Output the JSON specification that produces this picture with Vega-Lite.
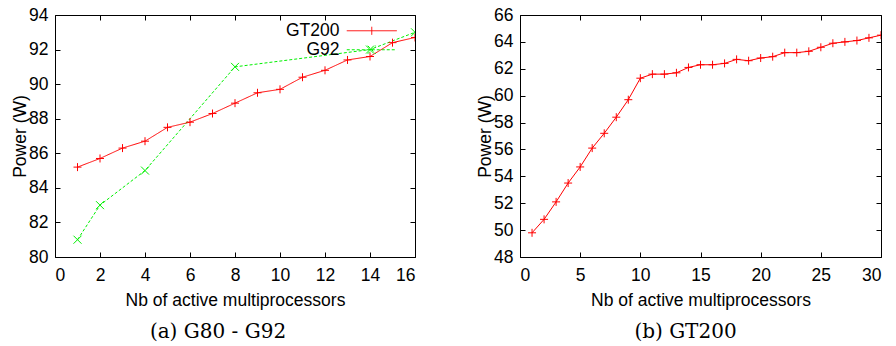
{
  "$schema": "https://vega.github.io/schema/vega-lite/v6.json",
  "background": "white",
  "padding": {"left": 11, "top": 5, "right": 5, "bottom": 2},
  "spacing": 60,
  "config": {
    "view": {"stroke": "black", "strokeWidth": 1},
    "axis": {"grid": false, "domain": false, "ticks": true, "tickColor": "black", "tickSize": -5, "tickWidth": 1, "labelFont": "Liberation Sans", "labelFontSize": 17.5, "labelColor": "black", "titleFont": "Liberation Sans", "titleFontSize": 17.5, "titleFontWeight": "normal", "titleColor": "black"},
    "axisBottom": {"labelPadding": 14, "titlePadding": 8},
    "axisLeft": {"labelPadding": 12, "titlePadding": -1},
    "title": {"font": "DejaVu Serif", "fontSize": 20, "fontWeight": "normal", "color": "black", "orient": "bottom", "anchor": "middle"},
    "legend": {"labelFont": "Liberation Sans", "labelFontSize": 17.5, "labelColor": "black"}
  },
  "datasets": {
    "a": [
      {"n": 1, "power": 85.2, "series": "GT200"},
      {"n": 2, "power": 85.7, "series": "GT200"},
      {"n": 3, "power": 86.3, "series": "GT200"},
      {"n": 4, "power": 86.7, "series": "GT200"},
      {"n": 5, "power": 87.5, "series": "GT200"},
      {"n": 6, "power": 87.8, "series": "GT200"},
      {"n": 7, "power": 88.3, "series": "GT200"},
      {"n": 8, "power": 88.9, "series": "GT200"},
      {"n": 9, "power": 89.5, "series": "GT200"},
      {"n": 10, "power": 89.7, "series": "GT200"},
      {"n": 11, "power": 90.4, "series": "GT200"},
      {"n": 12, "power": 90.8, "series": "GT200"},
      {"n": 13, "power": 91.4, "series": "GT200"},
      {"n": 14, "power": 91.6, "series": "GT200"},
      {"n": 15, "power": 92.4, "series": "GT200"},
      {"n": 16, "power": 92.7, "series": "GT200"},
      {"n": 1, "power": 81, "series": "G92"},
      {"n": 2, "power": 83, "series": "G92"},
      {"n": 4, "power": 85, "series": "G92"},
      {"n": 8, "power": 91, "series": "G92"},
      {"n": 14, "power": 92, "series": "G92"},
      {"n": 16, "power": 93, "series": "G92"}
    ],
    "b": [
      {"n": 1, "power": 49.8}, {"n": 2, "power": 50.8}, {"n": 3, "power": 52.1},
      {"n": 4, "power": 53.5}, {"n": 5, "power": 54.7}, {"n": 6, "power": 56.1},
      {"n": 7, "power": 57.2}, {"n": 8, "power": 58.4}, {"n": 9, "power": 59.7},
      {"n": 10, "power": 61.3}, {"n": 11, "power": 61.6}, {"n": 12, "power": 61.6},
      {"n": 13, "power": 61.7}, {"n": 14, "power": 62.1}, {"n": 15, "power": 62.3},
      {"n": 16, "power": 62.3}, {"n": 17, "power": 62.4}, {"n": 18, "power": 62.7},
      {"n": 19, "power": 62.6}, {"n": 20, "power": 62.8}, {"n": 21, "power": 62.9},
      {"n": 22, "power": 63.2}, {"n": 23, "power": 63.2}, {"n": 24, "power": 63.3},
      {"n": 25, "power": 63.6}, {"n": 26, "power": 63.9}, {"n": 27, "power": 64.0},
      {"n": 28, "power": 64.1}, {"n": 29, "power": 64.3}, {"n": 30, "power": 64.5}
    ]
  },
  "hconcat": [
    {
      "width": 360,
      "height": 242,
      "title": {"text": "(a) G80 - G92", "dx": -17, "offset": 13},
      "data": {"name": "a"},
      "resolve": {"axis": {"x": "independent", "y": "independent"}},
      "layer": [
        {
          "mark": {"type": "line", "strokeWidth": 1, "clip": true},
          "encoding": {
            "x": {"field": "n", "type": "quantitative", "scale": {"domain": [0, 16], "nice": false}, "axis": {"orient": "bottom", "values": [0, 2, 4, 6, 8, 10, 12, 14, 16], "title": "Nb of active multiprocessors"}},
            "y": {"field": "power", "type": "quantitative", "scale": {"domain": [80, 94], "nice": false, "zero": false}, "axis": {"orient": "left", "values": [80, 82, 84, 86, 88, 90, 92, 94], "title": "Power (W)"}},
            "color": {"field": "series", "type": "nominal", "scale": {"domain": ["GT200", "G92"], "range": ["#ff0000", "#00f000"]},
              "legend": {"title": null, "orient": "none", "legendX": 308, "legendY": 7, "labelAlign": "right", "labelOffset": -41, "symbolSize": 100, "symbolStrokeWidth": 1, "rowPadding": 0,
                "encode": {"symbols": {"update": {"shape": {"signal": "datum.value === 'G92' ? 'M-5,0H5M-0.8,-0.8L0.8,0.8M-0.8,0.8L0.8,-0.8' : 'M-5,0H5M0,-0.8V0.8'"}}}}}},
            "strokeDash": {"field": "series", "type": "nominal", "scale": {"domain": ["GT200", "G92"], "range": [[1, 0], [3, 2]]}}
          }
        },
        {
          "transform": [{"filter": "datum.series === 'GT200'"}],
          "mark": {"type": "point", "shape": "M-1,0H1M0,-1V1", "filled": false, "color": "#ff0000", "size": 64, "strokeWidth": 1, "opacity": 1, "clip": true},
          "encoding": {
            "x": {"field": "n", "type": "quantitative", "axis": {"orient": "top", "labels": false, "title": null, "values": [0, 2, 4, 6, 8, 10, 12, 14, 16]}},
            "y": {"field": "power", "type": "quantitative", "axis": {"orient": "right", "labels": false, "title": null, "values": [80, 82, 84, 86, 88, 90, 92, 94]}}
          }
        },
        {
          "transform": [{"filter": "datum.series === 'G92'"}],
          "mark": {"type": "point", "shape": "M-1,-1L1,1M-1,1L1,-1", "filled": false, "color": "#00f000", "size": 64, "strokeWidth": 1, "opacity": 1, "clip": true},
          "encoding": {
            "x": {"field": "n", "type": "quantitative", "axis": null},
            "y": {"field": "power", "type": "quantitative", "axis": null}
          }
        }
      ]
    },
    {
      "width": 361,
      "height": 242,
      "title": {"text": "(b) GT200", "dx": -15, "offset": 13},
      "data": {"name": "b"},
      "resolve": {"axis": {"x": "independent", "y": "independent"}},
      "layer": [
        {
          "mark": {"type": "line", "strokeWidth": 1, "color": "#ff0000", "clip": true},
          "encoding": {
            "x": {"field": "n", "type": "quantitative", "scale": {"domain": [0, 30], "nice": false}, "axis": {"orient": "bottom", "values": [0, 5, 10, 15, 20, 25, 30], "title": "Nb of active multiprocessors"}},
            "y": {"field": "power", "type": "quantitative", "scale": {"domain": [48, 66], "nice": false, "zero": false}, "axis": {"orient": "left", "values": [48, 50, 52, 54, 56, 58, 60, 62, 64, 66], "title": "Power (W)"}}
          }
        },
        {
          "mark": {"type": "point", "shape": "M-1,0H1M0,-1V1", "filled": false, "color": "#ff0000", "size": 64, "strokeWidth": 1, "opacity": 1, "clip": true},
          "encoding": {
            "x": {"field": "n", "type": "quantitative", "axis": {"orient": "top", "labels": false, "title": null, "values": [0, 5, 10, 15, 20, 25, 30]}},
            "y": {"field": "power", "type": "quantitative", "axis": {"orient": "right", "labels": false, "title": null, "values": [48, 50, 52, 54, 56, 58, 60, 62, 64, 66]}}
          }
        }
      ]
    }
  ]
}
